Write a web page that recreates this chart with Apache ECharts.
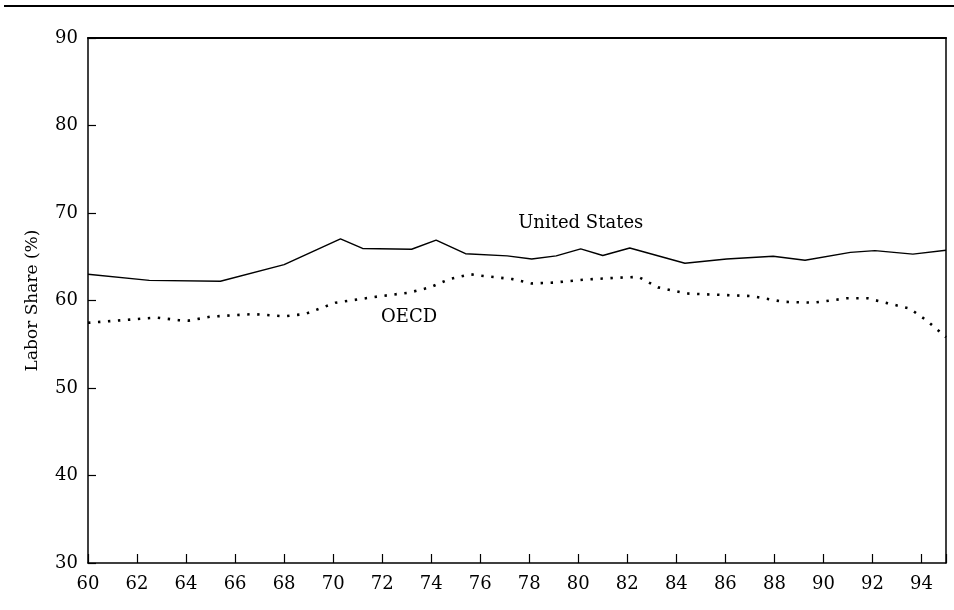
<!DOCTYPE html>
<html>
<head>
<meta charset="utf-8">
<script src="https://cdn.jsdelivr.net/npm/echarts@6/dist/echarts.min.js"></script>
<style>
html,body{margin:0;padding:0;background:#fff;}
#chart{width:954px;height:610px;}
</style>
</head>
<body>
<div id="chart"></div>
<script>
// ---- Data ----
const usYears = [60.0, 62.5, 65.4, 68.0, 70.3, 71.2, 73.2, 74.2, 75.4, 77.1, 78.1, 79.1, 80.1, 81.0, 82.1, 84.35, 86.05, 87.95, 89.25, 91.1, 92.1, 93.65, 95.0];
const usValues = [63.0, 62.3, 62.2, 64.1, 67.05, 65.95, 65.85, 66.9, 65.35, 65.1, 64.75, 65.1, 65.9, 65.15, 66.0, 64.25, 64.75, 65.05, 64.6, 65.5, 65.7, 65.3, 65.75];

const oecdYears = [60.0, 62.8, 63.7, 64.1, 65.0, 66.75, 68.0, 68.85, 70.1, 71.8, 73.1, 73.95, 74.75, 75.6, 76.0, 77.3, 78.1, 79.0, 80.3, 81.6, 82.45, 83.25, 84.4, 87.1, 88.35, 89.6, 90.95, 91.8, 92.6, 93.5, 94.2, 95.0];
const oecdValues = [57.45, 58.05, 57.75, 57.7, 58.15, 58.45, 58.2, 58.45, 59.75, 60.45, 60.9, 61.5, 62.45, 63.0, 62.85, 62.45, 61.95, 62.05, 62.4, 62.6, 62.7, 61.5, 60.8, 60.5, 59.85, 59.75, 60.25, 60.25, 59.7, 59.1, 57.75, 55.8];

const seriesNames = ['United States', 'OECD'];
const yTicks = [30, 40, 50, 60, 70, 80, 90];
const xTickYears = [60, 62, 64, 66, 68, 70, 72, 74, 76, 78, 80, 82, 84, 86, 88, 90, 92, 94];
const yAxisTitle = 'Labor Share (%)';
// label anchor points (data space)
const usLabelAt = [80.1, 68.85];
const oecdLabelAt = [73.1, 58.1];

const FONT = 'DejaVu Serif';
const zip = (xs, ys) => xs.map((x, i) => [x, ys[i]]);

const chart = echarts.init(document.getElementById('chart'), null, {renderer: 'canvas'});
chart.setOption({
  animation: false,
  backgroundColor: '#fff',
  grid: {left: 88, right: 8, top: 38, bottom: 47, containLabel: false},
  xAxis: [{
    type: 'value', min: 60, max: 95, interval: 2,
    axisLine: {show: true, lineStyle: {color: '#000', width: 1.5}},
    axisTick: {show: true, inside: true, length: 9, lineStyle: {color: '#000', width: 1.2}},
    axisLabel: {color: '#000', fontFamily: FONT, fontSize: 18, margin: 12,
      formatter: v => xTickYears.indexOf(v) >= 0 ? String(v) : ''},
    splitLine: {show: false}
  }, {
    type: 'value', min: 60, max: 95, position: 'top',
    axisLine: {show: true, onZero: false, lineStyle: {color: '#000', width: 2.2}},
    axisTick: {show: false}, axisLabel: {show: false}, splitLine: {show: false}
  }],
  yAxis: [{
    type: 'value', min: 30, max: 90, interval: 10,
    name: yAxisTitle, nameLocation: 'middle', nameGap: 47,
    nameTextStyle: {color: '#000', fontFamily: FONT, fontSize: 17},
    axisLine: {show: true, lineStyle: {color: '#000', width: 1.5}},
    axisTick: {show: true, inside: true, length: 8, lineStyle: {color: '#000', width: 1.2}},
    axisLabel: {color: '#000', fontFamily: FONT, fontSize: 18, margin: 10,
      formatter: v => yTicks.indexOf(v) >= 0 ? String(v) : ''},
    splitLine: {show: false}
  }, {
    type: 'value', min: 30, max: 90, position: 'right',
    axisLine: {show: true, onZero: false, lineStyle: {color: '#000', width: 1.5}},
    axisTick: {show: false}, axisLabel: {show: false}, splitLine: {show: false}
  }],
  graphic: [{
    type: 'line', shape: {x1: 4, y1: 6, x2: 954, y2: 6},
    style: {stroke: '#000', lineWidth: 2}
  }],
  series: [{
    name: seriesNames[0], type: 'line', data: zip(usYears, usValues),
    showSymbol: false, symbol: 'none',
    lineStyle: {color: '#000', width: 1.5},
    markPoint: {
      symbol: 'circle', symbolSize: 0, silent: true,
      data: [{coord: usLabelAt, value: seriesNames[0]}],
      label: {show: true, position: 'inside', formatter: seriesNames[0],
        color: '#000', fontFamily: FONT, fontSize: 18}
    }
  }, {
    name: seriesNames[1], type: 'line', data: zip(oecdYears, oecdValues),
    showSymbol: false, symbol: 'none',
    lineStyle: {color: '#000', width: 2.6, type: [2.4, 7.6], cap: 'butt'},
    markPoint: {
      symbol: 'circle', symbolSize: 0, silent: true,
      data: [{coord: oecdLabelAt, value: seriesNames[1]}],
      label: {show: true, position: 'inside', formatter: seriesNames[1],
        color: '#000', fontFamily: FONT, fontSize: 18}
    }
  }]
});
</script>
</body>
</html>
